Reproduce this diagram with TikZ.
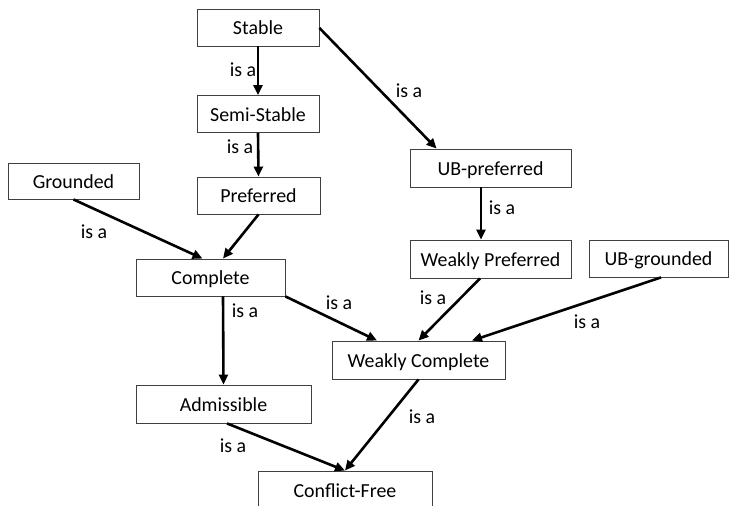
\documentclass[tikz,border=0pt]{standalone}
\usepackage{fontspec}
\setmainfont{Carlito}
\usetikzlibrary{arrows.meta,calc}
\begin{document}
\begin{tikzpicture}[x=1pt,y=-1pt,
  box/.style={draw=black!75,line width=0.9pt,rectangle,inner sep=0pt,text height=18.8pt,text depth=4pt,font=\fontsize{19.9}{24}\selectfont},
  lbl/.style={font=\fontsize{19.9}{24}\selectfont,inner sep=0pt},
  isa/.style={line width=2.6pt,-{Triangle[length=10pt,width=9pt]}}]
\useasboundingbox (0,0) rectangle (740,506);
\begin{scope}
\clip (0,0) rectangle (740,506);
\node[box,minimum width=122pt,minimum height=37pt] (stable) at (258,27.5) {Stable};
\node[box,minimum width=122pt,minimum height=37pt] (semi) at (258,114) {Semi-Stable};
\node[box,minimum width=123pt,minimum height=37pt] (pref) at (258.5,195.5) {Preferred};
\node[box,minimum width=131pt,minimum height=36pt] (grnd) at (73.5,181) {Grounded};
\node[box,minimum width=149pt,minimum height=37pt] (comp) at (210.5,277.5) {Complete};
\node[box,minimum width=161pt,minimum height=38pt] (ubp) at (490.5,168) {UB-preferred};
\node[box,minimum width=161pt,minimum height=38pt] (wp) at (490.5,259) {Weakly Preferred};
\node[box,minimum width=139pt,minimum height=37pt] (ubg) at (658.5,258.5) {UB-grounded};
\node[box,minimum width=173pt,minimum height=38pt] (wc) at (418.5,360) {Weakly Complete};
\node[box,minimum width=175pt,minimum height=38pt] (adm) at (223.5,404) {Admissible};
\node[box,minimum width=174pt,minimum height=38pt] (cf) at (345,490) {Conflict-Free};
\end{scope}

\draw[isa] (stable.south) -- (semi.north);
\draw[isa] (semi.south) -- (pref.north);
\draw[isa] ([yshift=-0.5pt]stable.east) -- ([xshift=27pt]ubp.north west);
\draw[isa] (grnd.south) -- ([xshift=-8pt]comp.north);
\draw[isa] (pref.south) -- ([xshift=12.5pt]comp.north);
\draw[isa] ([xshift=12.5pt]comp.south) -- (adm.north);
\draw[isa] (comp.south east) -- ([xshift=-41.5pt]wc.north);
\draw[isa] ([xshift=-9.5pt]ubp.south) -- ([xshift=-9.5pt]wp.north);
\draw[isa] ([xshift=-10.5pt]wp.south) -- (wc.north);
\draw[isa] ([xshift=2.5pt]ubg.south) -- ([xshift=53.5pt]wc.north);
\draw[isa] ([xshift=3.5pt]adm.south) -- (cf.north);
\draw[isa] (wc.south) -- (cf.north);

\node[lbl] (l1) at (243,70) {is a};
\node[lbl] (l2) at (240,147) {is a};
\node[lbl] (l3) at (409,91) {is a};
\node[lbl] (l4) at (94,232) {is a};
\node[lbl] (l5) at (245,311) {is a};
\node[lbl] (l6) at (339,303) {is a};
\node[lbl] (l7) at (502,208) {is a};
\node[lbl] (l8) at (433,298) {is a};
\node[lbl] (l9) at (587,322) {is a};
\node[lbl] (l10) at (233,446) {is a};
\node[lbl] (l11) at (422,417) {is a};
\end{tikzpicture}
\end{document}
